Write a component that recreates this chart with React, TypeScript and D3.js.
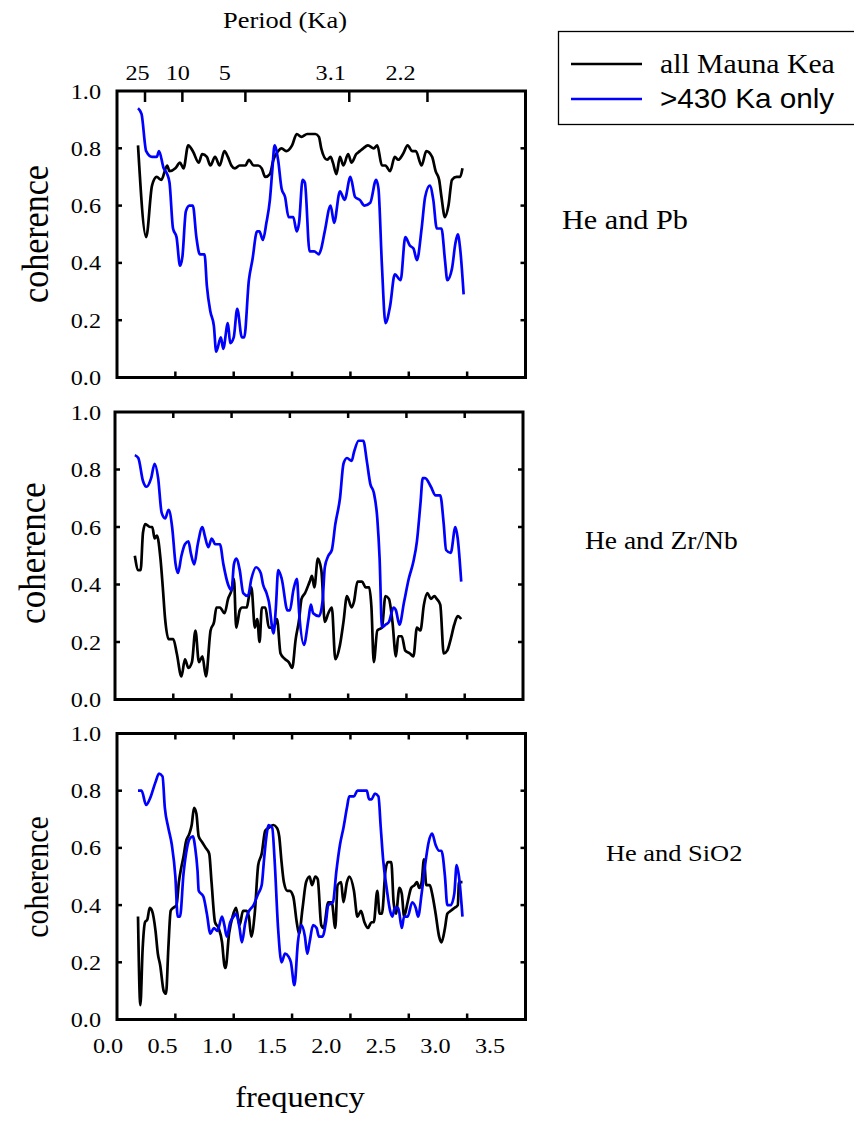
import React, { useEffect, useRef } from 'react';
import * as d3 from 'd3';

// coherence vs frequency, [frequency, coherence]
const pbAll = [[0.18,0.81],[0.25,0.49],[0.30,0.67],[0.34,0.70],[0.38,0.69],[0.43,0.74],[0.45,0.72],[0.50,0.73],[0.54,0.75],[0.57,0.73],[0.61,0.81],[0.65,0.79],[0.70,0.75],[0.73,0.78],[0.77,0.77],[0.80,0.74],[0.84,0.77],[0.88,0.74],[0.92,0.79],[0.95,0.77],[0.98,0.74],[1.01,0.73],[1.05,0.74],[1.10,0.74],[1.13,0.76],[1.17,0.74],[1.21,0.74],[1.24,0.73],[1.27,0.70],[1.31,0.71],[1.34,0.76],[1.38,0.79],[1.41,0.80],[1.45,0.79],[1.50,0.81],[1.54,0.85],[1.58,0.84],[1.63,0.85],[1.67,0.85],[1.70,0.85],[1.73,0.84],[1.75,0.80],[1.80,0.76],[1.83,0.77],[1.85,0.75],[1.88,0.71],[1.91,0.77],[1.94,0.74],[1.98,0.78],[2.01,0.75],[2.05,0.78],[2.08,0.79],[2.11,0.80],[2.15,0.81],[2.20,0.80],[2.23,0.81],[2.27,0.74],[2.30,0.74],[2.34,0.72],[2.38,0.77],[2.41,0.76],[2.45,0.78],[2.49,0.81],[2.53,0.79],[2.56,0.79],[2.61,0.74],[2.65,0.79],[2.70,0.77],[2.73,0.72],[2.76,0.69],[2.78,0.63],[2.81,0.56],[2.84,0.60],[2.87,0.69],[2.91,0.70],[2.94,0.70],[2.96,0.73]];
const pbOld = [[0.18,0.94],[0.21,0.92],[0.25,0.79],[0.30,0.77],[0.34,0.77],[0.36,0.79],[0.40,0.73],[0.43,0.71],[0.45,0.68],[0.48,0.52],[0.51,0.49],[0.54,0.39],[0.56,0.42],[0.59,0.58],[0.62,0.60],[0.65,0.60],[0.68,0.49],[0.71,0.43],[0.75,0.43],[0.77,0.32],[0.80,0.23],[0.83,0.18],[0.85,0.09],[0.89,0.14],[0.91,0.10],[0.95,0.19],[0.97,0.12],[1.00,0.14],[1.03,0.24],[1.07,0.14],[1.09,0.14],[1.13,0.34],[1.16,0.41],[1.20,0.51],[1.22,0.51],[1.25,0.48],[1.28,0.54],[1.31,0.62],[1.33,0.72],[1.35,0.81],[1.38,0.76],[1.41,0.66],[1.44,0.63],[1.47,0.56],[1.51,0.56],[1.54,0.51],[1.56,0.54],[1.59,0.69],[1.61,0.68],[1.65,0.44],[1.69,0.44],[1.73,0.43],[1.75,0.45],[1.78,0.51],[1.83,0.60],[1.86,0.54],[1.91,0.65],[1.95,0.62],[2.00,0.70],[2.04,0.63],[2.08,0.62],[2.12,0.60],[2.17,0.61],[2.22,0.69],[2.24,0.66],[2.27,0.39],[2.30,0.19],[2.34,0.25],[2.38,0.36],[2.43,0.34],[2.47,0.49],[2.51,0.46],[2.54,0.45],[2.57,0.41],[2.61,0.52],[2.64,0.63],[2.68,0.67],[2.71,0.62],[2.74,0.52],[2.78,0.52],[2.81,0.41],[2.83,0.34],[2.87,0.38],[2.90,0.47],[2.92,0.50],[2.94,0.45],[2.97,0.29]];

const zrAll = [[0.17,0.50],[0.20,0.45],[0.22,0.45],[0.24,0.58],[0.26,0.61],[0.30,0.60],[0.32,0.60],[0.34,0.56],[0.36,0.57],[0.39,0.49],[0.41,0.39],[0.43,0.28],[0.46,0.21],[0.50,0.21],[0.53,0.16],[0.57,0.08],[0.60,0.14],[0.63,0.11],[0.66,0.13],[0.69,0.24],[0.72,0.13],[0.75,0.15],[0.78,0.08],[0.82,0.24],[0.85,0.27],[0.87,0.32],[0.90,0.32],[0.94,0.30],[0.97,0.35],[1.00,0.38],[1.02,0.42],[1.04,0.25],[1.07,0.31],[1.09,0.32],[1.13,0.32],[1.15,0.36],[1.17,0.39],[1.20,0.25],[1.22,0.28],[1.24,0.20],[1.26,0.32],[1.29,0.32],[1.32,0.25],[1.36,0.25],[1.39,0.28],[1.42,0.16],[1.46,0.14],[1.49,0.13],[1.52,0.11],[1.55,0.21],[1.58,0.28],[1.60,0.35],[1.63,0.37],[1.67,0.41],[1.69,0.43],[1.71,0.39],[1.74,0.49],[1.77,0.45],[1.80,0.27],[1.83,0.30],[1.86,0.32],[1.89,0.14],[1.93,0.19],[1.96,0.27],[1.99,0.36],[2.03,0.32],[2.05,0.34],[2.08,0.41],[2.12,0.41],[2.15,0.39],[2.18,0.39],[2.20,0.32],[2.22,0.13],[2.25,0.24],[2.29,0.25],[2.32,0.36],[2.35,0.35],[2.38,0.27],[2.41,0.15],[2.43,0.22],[2.46,0.22],[2.49,0.17],[2.53,0.16],[2.56,0.15],[2.59,0.25],[2.62,0.24],[2.65,0.33],[2.68,0.37],[2.71,0.35],[2.74,0.36],[2.76,0.35],[2.79,0.33],[2.82,0.16],[2.85,0.17],[2.88,0.21],[2.91,0.26],[2.94,0.29],[2.97,0.28]];
const zrOld = [[0.17,0.85],[0.20,0.84],[0.24,0.76],[0.27,0.74],[0.31,0.77],[0.34,0.82],[0.37,0.77],[0.40,0.65],[0.43,0.63],[0.46,0.66],[0.49,0.60],[0.52,0.47],[0.54,0.44],[0.57,0.50],[0.60,0.54],[0.63,0.55],[0.65,0.51],[0.68,0.47],[0.71,0.54],[0.75,0.60],[0.77,0.57],[0.80,0.53],[0.83,0.56],[0.86,0.54],[0.90,0.54],[0.93,0.47],[0.97,0.40],[1.00,0.38],[1.02,0.47],[1.04,0.49],[1.07,0.45],[1.10,0.37],[1.14,0.36],[1.17,0.42],[1.21,0.46],[1.25,0.44],[1.27,0.40],[1.30,0.37],[1.32,0.34],[1.36,0.23],[1.38,0.32],[1.40,0.45],[1.43,0.42],[1.48,0.31],[1.50,0.31],[1.53,0.38],[1.56,0.42],[1.58,0.30],[1.62,0.19],[1.66,0.28],[1.68,0.33],[1.70,0.30],[1.75,0.29],[1.78,0.34],[1.80,0.46],[1.83,0.50],[1.86,0.52],[1.89,0.61],[1.93,0.70],[1.96,0.82],[1.99,0.84],[2.03,0.83],[2.05,0.86],[2.09,0.90],[2.13,0.90],[2.16,0.83],[2.19,0.75],[2.22,0.72],[2.25,0.63],[2.27,0.49],[2.29,0.25],[2.32,0.26],[2.35,0.27],[2.39,0.32],[2.41,0.31],[2.44,0.26],[2.48,0.34],[2.52,0.42],[2.56,0.48],[2.59,0.55],[2.62,0.68],[2.64,0.77],[2.66,0.77],[2.71,0.74],[2.75,0.71],[2.79,0.71],[2.82,0.61],[2.84,0.52],[2.88,0.51],[2.92,0.60],[2.94,0.56],[2.97,0.41]];

const siAll = [[0.18,0.36],[0.20,0.05],[0.22,0.25],[0.24,0.34],[0.26,0.35],[0.28,0.39],[0.30,0.38],[0.33,0.31],[0.35,0.23],[0.37,0.19],[0.40,0.10],[0.42,0.09],[0.44,0.25],[0.46,0.38],[0.48,0.39],[0.51,0.40],[0.53,0.48],[0.55,0.53],[0.57,0.57],[0.59,0.62],[0.62,0.65],[0.64,0.68],[0.66,0.74],[0.68,0.72],[0.70,0.64],[0.73,0.62],[0.76,0.60],[0.79,0.58],[0.81,0.48],[0.84,0.34],[0.87,0.32],[0.90,0.27],[0.92,0.19],[0.93,0.18],[0.96,0.30],[0.99,0.36],[1.02,0.39],[1.05,0.33],[1.08,0.38],[1.11,0.38],[1.13,0.36],[1.15,0.29],[1.18,0.37],[1.21,0.54],[1.24,0.58],[1.27,0.66],[1.30,0.67],[1.34,0.68],[1.37,0.67],[1.39,0.64],[1.41,0.55],[1.43,0.48],[1.46,0.45],[1.48,0.45],[1.51,0.43],[1.54,0.34],[1.56,0.30],[1.59,0.39],[1.62,0.48],[1.65,0.50],[1.67,0.47],[1.70,0.50],[1.72,0.49],[1.75,0.33],[1.77,0.32],[1.81,0.41],[1.84,0.41],[1.87,0.32],[1.89,0.47],[1.92,0.48],[1.94,0.41],[1.97,0.48],[1.99,0.50],[2.03,0.45],[2.06,0.36],[2.09,0.38],[2.12,0.34],[2.15,0.32],[2.18,0.34],[2.20,0.34],[2.23,0.45],[2.25,0.37],[2.27,0.37],[2.30,0.52],[2.32,0.55],[2.35,0.55],[2.37,0.41],[2.39,0.37],[2.42,0.46],[2.44,0.44],[2.46,0.36],[2.49,0.41],[2.52,0.46],[2.55,0.47],[2.57,0.48],[2.59,0.46],[2.61,0.48],[2.63,0.56],[2.65,0.47],[2.68,0.47],[2.70,0.44],[2.73,0.37],[2.76,0.29],[2.78,0.27],[2.81,0.32],[2.83,0.37],[2.86,0.38],[2.89,0.39],[2.92,0.40],[2.93,0.48],[2.96,0.48]];
const siOld = [[0.18,0.80],[0.21,0.80],[0.25,0.75],[0.28,0.77],[0.33,0.83],[0.36,0.86],[0.39,0.85],[0.41,0.74],[0.44,0.67],[0.47,0.61],[0.50,0.50],[0.52,0.36],[0.54,0.36],[0.57,0.51],[0.60,0.60],[0.62,0.63],[0.65,0.64],[0.67,0.60],[0.69,0.52],[0.70,0.45],[0.74,0.43],[0.77,0.37],[0.80,0.30],[0.83,0.32],[0.86,0.31],[0.90,0.36],[0.92,0.33],[0.94,0.29],[0.97,0.34],[1.00,0.36],[1.02,0.37],[1.05,0.32],[1.07,0.27],[1.10,0.34],[1.12,0.37],[1.17,0.40],[1.21,0.44],[1.24,0.47],[1.26,0.56],[1.28,0.64],[1.30,0.68],[1.33,0.67],[1.35,0.56],[1.38,0.32],[1.41,0.20],[1.44,0.23],[1.47,0.22],[1.49,0.20],[1.52,0.12],[1.55,0.27],[1.58,0.33],[1.61,0.29],[1.63,0.23],[1.65,0.27],[1.68,0.33],[1.71,0.32],[1.73,0.29],[1.76,0.29],[1.79,0.34],[1.81,0.40],[1.85,0.41],[1.88,0.52],[1.91,0.61],[1.94,0.67],[1.97,0.74],[1.99,0.78],[2.03,0.78],[2.06,0.80],[2.11,0.80],[2.14,0.80],[2.16,0.77],[2.18,0.77],[2.21,0.79],[2.24,0.78],[2.26,0.67],[2.28,0.56],[2.31,0.46],[2.34,0.38],[2.36,0.36],[2.38,0.39],[2.41,0.39],[2.44,0.32],[2.46,0.36],[2.49,0.36],[2.53,0.41],[2.56,0.39],[2.58,0.36],[2.61,0.44],[2.64,0.54],[2.67,0.62],[2.70,0.65],[2.73,0.61],[2.76,0.59],[2.78,0.59],[2.81,0.50],[2.83,0.40],[2.86,0.40],[2.89,0.44],[2.91,0.54],[2.93,0.50],[2.96,0.36]];

const freqTicks = [0.5, 1.0, 1.5, 2.0, 2.5, 3.0];
const freqLabels = ['0.0', '0.5', '1.0', '1.5', '2.0', '2.5', '3.0', '3.5'];
const cohTicks = [0.2, 0.4, 0.6, 0.8];
const cohLabels = ['0.0', '0.2', '0.4', '0.6', '0.8', '1.0'];
const periodTickFreq = [0.24, 0.56, 1.10, 1.99, 2.66];
const periodLabels = ['25', '10', '5', '3.1', '2.2'];
const periodLabelAt = [0.27, 0.64, 1.07, 2.04, 2.68];
const seriesNames = ['all Mauna Kea', '>430 Ka only'];
const seriesColors = ['#000000', '#0000ff'];

const SERIF = "'Liberation Serif', 'Times New Roman', serif";
const SANS = "'Liberation Sans', Arial, sans-serif";
const SX = 1.1; // text in the original is a little stretched sideways

const panels = [
  { name: 'He and Pb', all: pbAll, old: pbOld, left: 117, right: 525.5, top: 91, bottom: 377.5,
    titleX: 48, titleY: 234, titleSize: 34, nameX: 562, nameY: 229, nameSize: 27.5 },
  { name: 'He and Zr/Nb', all: zrAll, old: zrOld, left: 115, right: 523, top: 412, bottom: 699.5,
    titleX: 45, titleY: 553, titleSize: 35, nameX: 585, nameY: 549, nameSize: 25 },
  { name: 'He and SiO2', all: siAll, old: siOld, left: 117, right: 525.5, top: 733.5, bottom: 1019.5,
    titleX: 48, titleY: 877, titleSize: 30, nameX: 606, nameY: 861, nameSize: 24 },
];

function addText(g, x, y, str, size, anchor = 'start', family = SERIF) {
  return g.append('text')
    .attr('transform', `translate(${x},${y}) scale(${SX},1)`)
    .attr('text-anchor', anchor)
    .attr('font-family', family)
    .attr('font-size', size)
    .attr('fill', '#000')
    .text(str);
}

function App() {
  const ref = useRef(null);

  useEffect(() => {
    const svg = d3.select(ref.current);
    svg.selectAll('*').remove();

    panels.forEach((p, pi) => {
      const x = d3.scaleLinear().domain([0, 3.5]).range([p.left, p.right]);
      const y = d3.scaleLinear().domain([0, 1]).range([p.bottom, p.top]);
      const g = svg.append('g');

      const line = d3.line()
        .x((d) => x(d[0]))
        .y((d) => y(d[1]))
        .curve(d3.curveMonotoneX);

      [p.all, p.old].forEach((s, si) => {
        g.append('path')
          .attr('d', line(s))
          .attr('fill', 'none')
          .attr('stroke', seriesColors[si])
          .attr('stroke-width', 2.7)
          .attr('stroke-linejoin', 'round');
      });

      // ticks, all pointing in
      const tk = g.append('g').attr('stroke', '#000').attr('stroke-width', 2.5);
      freqTicks.forEach((f) => {
        tk.append('line').attr('x1', x(f)).attr('x2', x(f)).attr('y1', p.bottom).attr('y2', p.bottom - 6);
        if (pi > 0) tk.append('line').attr('x1', x(f)).attr('x2', x(f)).attr('y1', p.top).attr('y2', p.top + 6);
      });
      if (pi === 0) {
        periodTickFreq.forEach((f) => {
          tk.append('line').attr('x1', x(f)).attr('x2', x(f)).attr('y1', p.top).attr('y2', p.top + 11);
        });
      }
      cohTicks.forEach((c) => {
        tk.append('line').attr('x1', p.left).attr('x2', p.left + 5).attr('y1', y(c)).attr('y2', y(c));
        tk.append('line').attr('x1', p.right).attr('x2', p.right - 5).attr('y1', y(c)).attr('y2', y(c));
      });

      g.append('rect')
        .attr('x', p.left).attr('y', p.top)
        .attr('width', p.right - p.left).attr('height', p.bottom - p.top)
        .attr('fill', 'none').attr('stroke', '#000').attr('stroke-width', 3);

      cohLabels.forEach((lab, i) => {
        addText(g, 101, y(i * 0.2) + 7.5, lab, 22, 'end');
      });

      g.append('text')
        .attr('transform', `translate(${p.titleX},${p.titleY}) scale(${SX},1) rotate(-90)`)
        .attr('text-anchor', 'middle')
        .attr('font-family', SERIF)
        .attr('font-size', p.titleSize)
        .text('coherence');

      addText(g, p.nameX, p.nameY, p.name, p.nameSize);

      if (pi === 0) {
        const lx = d3.scaleLinear().domain([0, 3.5]).range([108, 490]);
        periodLabels.forEach((lab, i) => {
          addText(g, lx(periodLabelAt[i]), 80, lab, 22, 'middle');
        });
        addText(g, 285, 28, 'Period (Ka)', 24, 'middle');
      }
      if (pi === 2) {
        const lx = d3.scaleLinear().domain([0, 3.5]).range([108, 490]);
        freqLabels.forEach((lab, i) => {
          addText(g, lx(i * 0.5), 1053, lab, 22, 'middle');
        });
        addText(g, 300, 1107, 'frequency', 29.5, 'middle');
      }
    });

    // legend
    const lg = svg.append('g');
    lg.append('rect')
      .attr('x', 558.5).attr('y', 31.5).attr('width', 310).attr('height', 93)
      .attr('fill', 'none').attr('stroke', '#000').attr('stroke-width', 1.3);
    seriesNames.forEach((n, i) => {
      const ly = 64 + i * 35;
      lg.append('line')
        .attr('x1', 571).attr('x2', 642).attr('y1', ly).attr('y2', ly)
        .attr('stroke', seriesColors[i]).attr('stroke-width', 2.6);
      addText(lg, 660, ly + 8.5, n, 27, 'start', i === 0 ? SERIF : SANS);
    });
  }, []);

  return (
    <svg ref={ref} width={854} height={1123}
      style={{ position: 'absolute', left: 0, top: 0, background: '#fff' }} />
  );
}

export default App;
